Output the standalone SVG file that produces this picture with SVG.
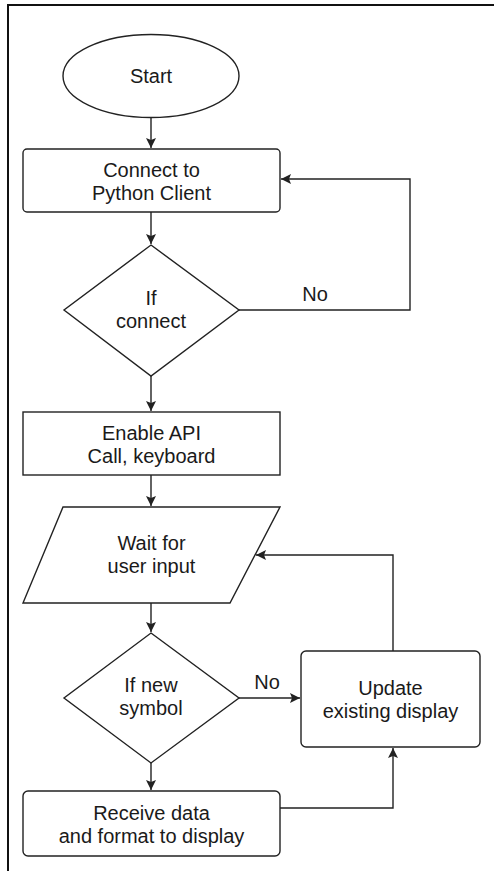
<svg xmlns="http://www.w3.org/2000/svg" width="494" height="871" viewBox="0 0 494 871">
  <style>
    .shape { fill: #ffffff; stroke: #222222; stroke-width: 1.4; }
    .edge { fill: none; stroke: #222222; stroke-width: 1.4; }
    .frame { fill: none; stroke: #111111; stroke-width: 2; }
    text { font-family: "Liberation Sans", Arial, sans-serif; font-size: 20px; fill: #1a1a1a; text-anchor: middle; }
  </style>
  <defs>
    <marker id="arrow" markerUnits="userSpaceOnUse" markerWidth="12" markerHeight="12" refX="10" refY="5" orient="auto">
      <path d="M0,0 L10,5 L0,10 L2,5 Z" fill="#222222"/>
    </marker>
  </defs>

  <rect width="494" height="871" fill="#ffffff"/>
  <!-- page frame -->
  <path class="frame" d="M8,871 L8,5 L494,5"/>

  <g id="start">
    <ellipse class="shape" cx="151" cy="76" rx="88" ry="41.5"/>
    <text x="151" y="83">Start</text>
  </g>

  <g id="connect">
    <rect class="shape" x="23" y="149" width="257" height="63" rx="4"/>
    <text x="151.5" y="177">Connect to</text>
    <text x="151.5" y="200">Python Client</text>
  </g>

  <g id="if-connect">
    <polygon class="shape" points="151,245 239,310 151,376 64,310"/>
    <text x="151" y="305">If</text>
    <text x="151" y="328">connect</text>
  </g>

  <g id="enable-api">
    <rect class="shape" x="23" y="412" width="257" height="63"/>
    <text x="151.5" y="440">Enable API</text>
    <text x="151.5" y="463">Call, keyboard</text>
  </g>

  <g id="wait-input">
    <polygon class="shape" points="63,507 280,507 230,603 23,603"/>
    <text x="151.5" y="550">Wait for</text>
    <text x="151.5" y="573">user input</text>
  </g>

  <g id="if-new-symbol">
    <polygon class="shape" points="151,633 239,698 151,763 64,698"/>
    <text x="151" y="692">If new</text>
    <text x="151" y="715">symbol</text>
  </g>

  <g id="update-display">
    <rect class="shape" x="301" y="651" width="179" height="96" rx="5"/>
    <text x="390.5" y="695">Update</text>
    <text x="390.5" y="718">existing display</text>
  </g>

  <g id="receive-data">
    <rect class="shape" x="23" y="791" width="257" height="65" rx="5"/>
    <text x="151.5" y="820">Receive data</text>
    <text x="151.5" y="843">and format to display</text>
  </g>

  <g id="connectors">
    <path class="edge" d="M151,117.5 L151,148" marker-end="url(#arrow)"/>
    <path class="edge" d="M151,212 L151,244" marker-end="url(#arrow)"/>
    <path class="edge" d="M239,310 L410,310 L410,179 L281,179" marker-end="url(#arrow)"/>
    <path class="edge" d="M151,376 L151,411" marker-end="url(#arrow)"/>
    <path class="edge" d="M151,475 L151,506" marker-end="url(#arrow)"/>
    <path class="edge" d="M151,603 L151,632" marker-end="url(#arrow)"/>
    <path class="edge" d="M239,698 L300,698" marker-end="url(#arrow)"/>
    <path class="edge" d="M393,651 L393,555 L256,555" marker-end="url(#arrow)"/>
    <path class="edge" d="M151,763 L151,790" marker-end="url(#arrow)"/>
    <path class="edge" d="M280,808 L393,808 L393,748" marker-end="url(#arrow)"/>
    <text x="315" y="301">No</text>
    <text x="267" y="689">No</text>
  </g>
</svg>
